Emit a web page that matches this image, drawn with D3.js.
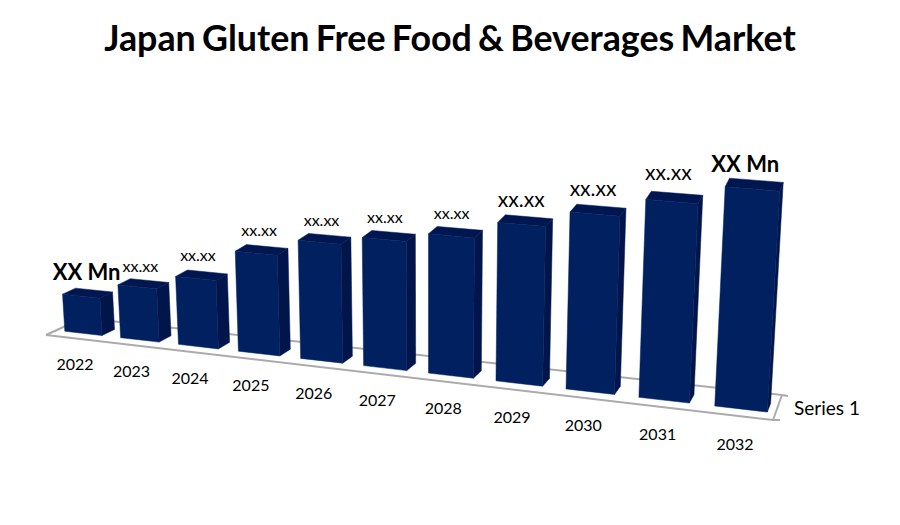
<!DOCTYPE html>
<html>
<head>
<meta charset="utf-8">
<script src="https://cdn.jsdelivr.net/npm/d3@7"></script>
<style>
  html, body { margin: 0; background: #fff; }
  text { font-family: Lato, "Open Sans", sans-serif; fill: #000; }
</style>
</head>
<body>
<svg width="900" height="525"></svg>
<script>
// Chart data
const years = ["2022", "2023", "2024", "2025", "2026", "2027", "2028", "2029", "2030", "2031", "2032"];
const values = [37, 52, 66, 96, 112, 120, 129, 145, 160, 177, 194];
const valueLabels = ["XX Mn", "xx.xx", "xx.xx", "xx.xx", "xx.xx", "xx.xx", "xx.xx", "xx.xx", "xx.xx", "xx.xx", "XX Mn"];
const seriesName = "Series 1";
const chartTitle = "Japan Gluten Free Food & Beverages Market";

// Layout: label size and nudge for each value label (placed by hand in the original)
const labelSize = [22, 16, 16, 16, 16, 16, 16, 21, 21, 21, 22];
const labelNudge = [[-1, 2], [-3, 3], [-3.5, 1], [-2.5, 1], [-3, 2], [-4, 2], [-4, 2], [-4, 1], [-5, 1], [-6, -2], [-9, 2]];

const svg = d3.select("svg");

// Floor of the 3D plot, as four corners on screen
const floor = { fl: [46, 335], fr: [773, 420], br: [782, 395], bl: [83, 318] };

// Perspective mapping of the unit square (u along years, v into depth) onto the floor
const homography = (() => {
    const [x0, y0] = floor.fl, [x1, y1] = floor.fr, [x2, y2] = floor.br, [x3, y3] = floor.bl;
    const dx1 = x1 - x2, dx2 = x3 - x2, sx = x0 - x1 + x2 - x3;
    const dy1 = y1 - y2, dy2 = y3 - y2, sy = y0 - y1 + y2 - y3;
    const den = dx1 * dy2 - dx2 * dy1;
    const g = (sx * dy2 - dx2 * sy) / den;
    const h = (dx1 * sy - sx * dy1) / den;
    return {
        a: x1 - x0 + g * x1, b: x3 - x0 + h * x3, c: x0,
        d: y1 - y0 + g * y1, e: y3 - y0 + h * y3, f: y0,
        g, h
    };
})();

const vanishX = 430, vanishDist = 6000; // verticals lean towards a far point below the chart
const heightGain = 1.14;

const xBand = d3.scaleBand().domain(years).range([0, 1]).paddingInner(0.33).paddingOuter(0.2).align(0.55);
const uWarp = d3.scaleLinear().domain([0, 0.4, 1]).range([-0.006, 0.407, 1.007]); // evens out the bar spacing a bit
const yHeight = d3.scaleLinear().domain([0, 200]).range([0, 200]);
const yearShift = d3.scaleLinear().domain([0, 1]).range([2, -3]);

// u, v on the floor and a value above it, to screen coordinates
function project(u, v, value) {
    const m = homography;
    const w = m.g * u + m.h * v + 1;
    const x = (m.a * u + m.b * v + m.c) / w;
    const y = (m.d * u + m.e * v + m.f) / w;
    const px = yHeight(value) * (1 + (heightGain - 1) * u);
    return [x + (x - vanishX) * px / vanishDist, y - px];
}

const poly = d3.line();
const depthFront = 0.27, depthBack = 0.62;

// Floor frame
const frame = [
    [project(0, 0, 0), project(1, 0, 0)],
    [project(0, 0, 0), project(0, 1, 0)],
    [project(0, 1, 0), project(1, 1, 0)],
    [project(1, 0, 0), project(1, 1, 0)],
    [project(1, 0, 0), [floor.fr[0] + 7, floor.fr[1]]],
    [project(1, 1, 0), [floor.br[0] + 6, floor.br[1] + 1]]
];
svg.append("g").selectAll("path")
    .data(frame)
    .join("path")
    .attr("d", d => poly(d))
    .attr("fill", "none")
    .attr("stroke", "#ababab")
    .attr("stroke-width", 2);

// Bars: front, side and top faces
const bars = years.map((year, i) => {
    const u0 = uWarp(xBand(year)), u1 = uWarp(xBand(year) + xBand.bandwidth());
    const v = values[i];
    return {
        year, i,
        front: [project(u0, depthFront, 0), project(u1, depthFront, 0), project(u1, depthFront, v), project(u0, depthFront, v)],
        side: [project(u1, depthFront, 0), project(u1, depthBack, 0), project(u1, depthBack, v), project(u1, depthFront, v)],
        top: [project(u0, depthFront, v), project(u1, depthFront, v), project(u1, depthBack, v), project(u0, depthBack, v)],
        topCenter: project((u0 + u1) / 2, (depthFront + depthBack) / 2, v)
    };
});

const barGroups = svg.append("g").selectAll("g")
    .data(bars)
    .join("g");

const faces = [["side", "#00154a"], ["top", "#001650"], ["front", "#002060"]];
faces.forEach(([name, color]) => {
    barGroups.append("path")
        .attr("d", d => poly(d[name]) + "Z")
        .attr("fill", color)
        .attr("stroke", color)
        .attr("stroke-width", 0.5);
});

// Value labels
svg.append("g").selectAll("text")
    .data(bars)
    .join("text")
    .attr("x", d => d.topCenter[0] + labelNudge[d.i][0])
    .attr("y", d => d.topCenter[1] - 15 + labelNudge[d.i][1])
    .attr("text-anchor", "middle")
    .attr("font-size", d => labelSize[d.i])
    .attr("font-weight", d => valueLabels[d.i] === "XX Mn" ? 700 : 400)
    .text(d => valueLabels[d.i]);

// Year labels, stepped out in front of the floor
const yearU = d => uWarp(xBand(d) + xBand.bandwidth() / 2);
svg.append("g").selectAll("text")
    .data(years)
    .join("text")
    .attr("x", d => project(yearU(d), 0, 0)[0] + yearShift(yearU(d)))
    .attr("y", d => project(yearU(d), -0.3, 0)[1] + 26)
    .attr("text-anchor", "middle")
    .attr("font-size", 16)
    .text(d => d);

// Series name at the depth axis
svg.append("text")
    .attr("x", 794)
    .attr("y", 415)
    .attr("font-size", 19)
    .text(seriesName);

// Title
svg.append("text")
    .attr("x", 450)
    .attr("y", 51)
    .attr("text-anchor", "middle")
    .attr("font-size", 35.8)
    .attr("font-weight", 700)
    .attr("word-spacing", -2.5)
    .text(chartTitle);
</script>
</body>
</html>
